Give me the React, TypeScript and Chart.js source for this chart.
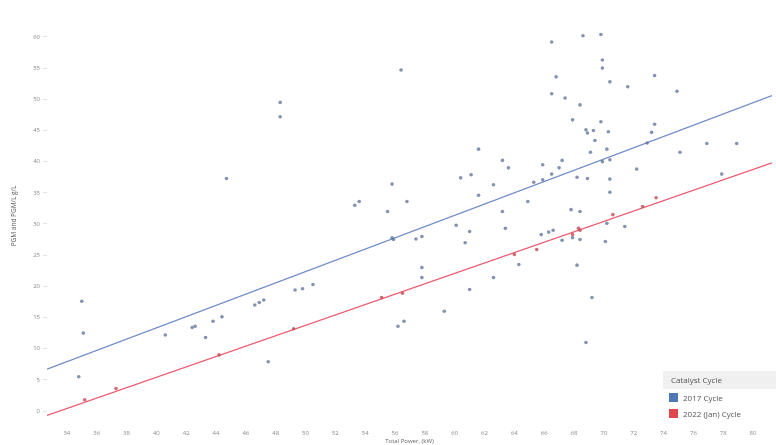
import { useEffect, useRef } from 'react'
import { Chart, registerables } from 'chart.js'

Chart.register(...registerables)

// 2017 cycle points (x, y)
const cycle2017X = [
  48.3, 48.3, 44.7, 53.3, 53.6, 35.0, 35.1, 34.8, 40.6, 42.4, 42.6, 43.3, 43.8, 44.4, 46.6, 46.9, 47.2, 47.5,
  49.3, 49.8, 50.5, 56.4, 66.8, 66.5, 61.6, 63.2, 63.6, 65.9, 60.4, 61.1, 62.6, 65.3, 65.9, 66.5, 55.8, 61.6,
  56.8, 55.5, 64.9, 63.2, 60.1, 61.0, 63.4, 55.9, 55.8, 57.4, 57.8, 60.7, 65.8, 66.3, 66.6, 64.3, 57.8, 57.8,
  62.6, 61.0, 59.3, 56.2, 56.6, 66.5, 68.6, 69.8, 69.9, 69.9, 70.4, 73.4, 71.6, 74.9, 67.4, 68.4, 67.9, 69.8,
  73.4, 68.8, 69.3, 68.9, 70.3, 73.2, 69.4, 72.9, 76.9, 78.9, 70.2, 69.1, 75.1, 69.9, 70.4, 67.2, 67.0, 72.2,
  68.2, 68.9, 70.4, 77.9, 70.4, 67.8, 68.4, 70.2, 71.4, 67.2, 67.9, 68.4, 70.1, 68.2, 69.2, 68.8,
]
const cycle2017Y = [
  49.5, 47.2, 37.3, 33.0, 33.6, 17.6, 12.5, 5.5, 12.2, 13.4, 13.6, 11.8, 14.4, 15.1, 17.0, 17.4, 17.8, 7.9,
  19.4, 19.6, 20.3, 54.7, 53.6, 50.9, 42.0, 40.2, 39.0, 39.5, 37.4, 37.9, 36.3, 36.7, 37.1, 38.0, 36.4, 34.6,
  33.6, 32.0, 33.6, 32.0, 29.8, 28.8, 29.3, 27.5, 27.8, 27.6, 28.0, 27.0, 28.3, 28.7, 29.0, 23.5, 23.0, 21.4,
  21.4, 19.5, 16.0, 13.6, 14.4, 59.2, 60.2, 60.4, 56.3, 55.0, 52.8, 53.8, 52.0, 51.3, 50.2, 49.1, 46.7, 46.4,
  46.0, 45.1, 45.0, 44.6, 44.8, 44.7, 43.4, 43.0, 42.9, 42.9, 42.0, 41.5, 41.5, 40.0, 40.3, 40.2, 39.0, 38.8,
  37.5, 37.3, 37.2, 38.0, 35.1, 32.3, 32.0, 30.1, 29.6, 27.4, 27.8, 27.5, 27.2, 23.4, 18.2, 11.0,
]

// 2022 (Jan) cycle points
const cycle2022X = [37.3, 35.2, 44.2, 49.2, 55.1, 56.5, 64.0, 65.5, 67.9, 68.3, 68.4, 70.6, 72.6, 73.5]
const cycle2022Y = [3.6, 1.8, 9.0, 13.2, 18.2, 18.9, 25.1, 25.9, 28.3, 29.3, 29.0, 31.5, 32.8, 34.2]

// trend line ends
const trendX = [32.67, 81.27]
const trend2017Y = [6.7, 50.6]
const trend2022Y = [-0.7, 39.8]

const xTicks = [34, 36, 38, 40, 42, 44, 46, 48, 50, 52, 54, 56, 58, 60, 62, 64, 66, 68, 70, 72, 74, 76, 78, 80]
const yTicks = [0, 5, 10, 15, 20, 25, 30, 35, 40, 45, 50, 55, 60]

const BLUE = '#4f79b5'
const RED = '#e0474c'
const FONT = '"Open Sans", sans-serif'

const pts = (xs: number[], ys: number[]) => xs.map((x, i) => ({ x, y: ys[i] }))

export default function App() {
  const canvasRef = useRef<HTMLCanvasElement>(null)

  useEffect(() => {
    document.body.style.margin = '0'
    if (!canvasRef.current) return
    const chart = new Chart(canvasRef.current, {
      type: 'scatter',
      data: {
        datasets: [
          {
            label: '2017 Cycle',
            data: pts(cycle2017X, cycle2017Y),
            backgroundColor: 'rgba(90,110,150,0.75)',
            borderColor: 'rgba(90,110,150,0.75)',
            pointRadius: 1.8,
            borderWidth: 0,
          },
          {
            label: '2022 (Jan) Cycle',
            data: pts(cycle2022X, cycle2022Y),
            backgroundColor: 'rgba(200,80,90,0.85)',
            borderColor: 'rgba(200,80,90,0.85)',
            pointRadius: 1.8,
            borderWidth: 0,
          },
          {
            type: 'line',
            label: 'trend 2017',
            data: pts(trendX, trend2017Y),
            borderColor: '#6f8bc9',
            borderWidth: 1.3,
            pointRadius: 0,
          },
          {
            type: 'line',
            label: 'trend 2022',
            data: pts(trendX, trend2022Y),
            borderColor: '#ec5a6e',
            borderWidth: 1.3,
            pointRadius: 0,
          },
        ],
      },
      options: {
        animation: false,
        responsive: false,
        maintainAspectRatio: false,
        layout: { padding: { top: 15, right: 0, left: 10, bottom: 0 } },
        plugins: { legend: { display: false }, tooltip: { enabled: false } },
        scales: {
          x: {
            type: 'linear',
            min: 32.67,
            max: 81.27,
            afterBuildTicks: (s: any) => { s.ticks = xTicks.map(v => ({ value: v })) },
            afterFit: (s: any) => { s.height = 28 },
            border: { display: false },
            grid: { display: false },
            ticks: { color: '#8a8a8a', font: { family: FONT, size: 6 }, padding: 5, maxRotation: 0, autoSkip: false },
            title: { display: true, text: 'Total Power, (kW)', color: '#666', font: { family: FONT, size: 6 }, padding: { top: 0, bottom: 0 } },
          },
          y: {
            min: -0.96,
            max: 63.52,
            afterBuildTicks: (s: any) => { s.ticks = yTicks.map(v => ({ value: v })) },
            afterFit: (s: any) => { s.width = 37 },
            border: { display: false },
            grid: { drawOnChartArea: false, color: '#e4e4e4', tickLength: 4 },
            ticks: { color: '#8a8a8a', font: { family: FONT, size: 6 }, padding: 3 },
            title: { display: true, text: 'PGM and PGM/L g/L', color: '#555', font: { family: FONT, size: 6.5 }, padding: { top: 0, bottom: 4 } },
          },
        },
      },
    })
    return () => { chart.destroy() }
  }, [])

  return (
    <div style={{ position: 'relative', width: 776, height: 445, background: '#fff', fontFamily: FONT }}>
      <canvas ref={canvasRef} width={776} height={445} style={{ display: 'block' }} />
      {/* legend */}
      <div style={{ position: 'absolute', left: 663, top: 371, width: 113, fontSize: 8, color: '#555' }}>
        <div style={{ background: '#f0f0f0', padding: '3px 8px', height: 12, lineHeight: '12px' }}>Catalyst Cycle</div>
        <div style={{ display: 'flex', alignItems: 'center', gap: 5, marginTop: 3, paddingLeft: 6 }}>
          <span style={{ width: 9, height: 9, background: BLUE, display: 'inline-block' }} />2017 Cycle
        </div>
        <div style={{ display: 'flex', alignItems: 'center', gap: 5, marginTop: 5, paddingLeft: 6 }}>
          <span style={{ width: 9, height: 9, background: RED, display: 'inline-block' }} />2022 (Jan) Cycle
        </div>
      </div>
    </div>
  )
}
